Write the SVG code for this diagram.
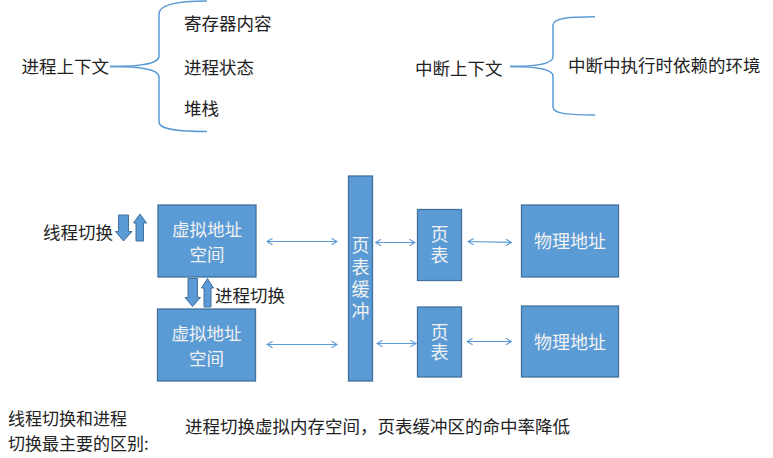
<svg xmlns="http://www.w3.org/2000/svg" width="773" height="458" viewBox="0 0 773 458">
<style>
.t{font-family:"Noto Sans CJK SC","Noto Sans",sans-serif;font-size:17.5px;fill:#222}
.w{font-family:"Noto Sans CJK SC","Noto Sans",sans-serif;font-size:18px;fill:#f2f2f2;text-anchor:middle}
.v{font-family:"Noto Sans CJK SC","Noto Sans",sans-serif;font-size:18px;fill:#f2f2f2;writing-mode:vertical-rl}
.box{fill:#5B9BD5;stroke:#41719C;stroke-width:1.3}
.brace{fill:none;stroke:#5B9BD5;stroke-width:1.5}
.link{fill:none;stroke:#5B9BD5;stroke-width:1.2;marker-start:url(#oh);marker-end:url(#oh)}
.blk{fill:#5B9BD5;stroke:#41719C;stroke-width:1}
</style>
<defs>
<marker id="oh" viewBox="0 0 10 10" refX="9" refY="5" markerWidth="8" markerHeight="8" markerUnits="userSpaceOnUse" orient="auto-start-reverse">
<path d="M2,1 L9,5 L2,9" fill="none" stroke="#5B9BD5" stroke-width="1.4"/>
</marker>
</defs>

<g id="process-context">
<path class="brace" d="M110,66.5 C135,66.5 159,65 159,56 L159,14 C159,4 180,1 207,1"/>
<path class="brace" d="M110,66.5 C135,66.5 159,68 159,77 L159,122 C159,130 180,131.5 207,131.5"/>
<text class="t" x="21.5" y="73">进程上下文</text>
<text class="t" x="184" y="30">寄存器内容</text>
<text class="t" x="184" y="74">进程状态</text>
<text class="t" x="184" y="115">堆栈</text>
</g>

<g id="interrupt-context">
<path class="brace" d="M510,66.5 C530,66.5 553,65 553,57 L553,25 C553,18 570,16.7 595,16.7"/>
<path class="brace" d="M510,66.5 C530,66.5 553,68 553,76 L553,107 C553,114 570,115 595,115"/>
<text class="t" x="415" y="75">中断上下文</text>
<text class="t" x="568" y="71.5">中断中执行时依赖的环境</text>
</g>

<g id="thread-switch">
<text class="t" x="43" y="238.5">线程切换</text>
<polygon class="blk" points="118.5,215 128.5,215 128.5,231.5 132,231.5 123.5,241 115.5,231.5 118.5,231.5"/>
<polygon class="blk" points="136,241 143.5,241 143.5,223 146.5,223 140,214 133.5,223 136,223"/>
</g>

<g id="process-switch">
<polygon class="blk" points="188,278.5 197.5,278.5 197.5,297.5 200.5,297.5 192.5,306.5 185,297.5 188,297.5"/>
<polygon class="blk" points="204,307 211,307 211,288 213.5,288 207.5,278.5 201.5,288 204,288"/>
<text class="t" x="215" y="301.5">进程切换</text>
</g>

<g id="vas1">
<rect class="box" x="158" y="205" width="98" height="72"/>
<text class="w" x="207" y="236" style="font-size:17.5px">虚拟地址</text>
<text class="w" x="207" y="261" style="font-size:17.5px">空间</text>
</g>

<g id="vas2">
<rect class="box" x="157.5" y="309" width="98" height="72"/>
<text class="w" x="206.5" y="339.5" style="font-size:17.5px">虚拟地址</text>
<text class="w" x="206.5" y="364.5" style="font-size:17.5px">空间</text>
</g>

<g id="tlb">
<rect class="box" x="348.5" y="176" width="24" height="205"/>
<text class="v" x="360.5" y="236" letter-spacing="4">页表缓冲</text>
</g>

<g id="pt1">
<rect class="box" x="417.5" y="209.5" width="44" height="71"/>
<text class="v" x="439.5" y="225.5" letter-spacing="3">页表</text>
</g>

<g id="pt2">
<rect class="box" x="417.5" y="307" width="44" height="70"/>
<text class="v" x="439.5" y="323" letter-spacing="2">页表</text>
</g>

<g id="pa1">
<rect class="box" x="521.5" y="205" width="97" height="72"/>
<text class="w" x="570" y="248">物理地址</text>
</g>

<g id="pa2">
<rect class="box" x="521.5" y="306" width="97" height="71"/>
<text class="w" x="570" y="348.5">物理地址</text>
</g>

<g id="connectors">
<line class="link" x1="267" y1="241.5" x2="337" y2="241.5"/>
<line class="link" x1="267" y1="344.5" x2="337" y2="344.5"/>
<line class="link" x1="375.5" y1="242.5" x2="415" y2="242.5"/>
<line class="link" x1="377" y1="343.5" x2="416" y2="343.5"/>
<line class="link" x1="468" y1="241.5" x2="511.5" y2="242.5"/>
<line class="link" x1="467" y1="341.5" x2="511.5" y2="341.5"/>
</g>

<g id="summary">
<text class="t" x="8" y="424.5" style="font-size:17px">线程切换和进程</text>
<text class="t" x="8" y="449.5" style="font-size:17px">切换最主要的区别:</text>
<text class="t" x="185" y="433">进程切换虚拟内存空间，页表缓冲区的命中率降低</text>
</g>
</svg>
